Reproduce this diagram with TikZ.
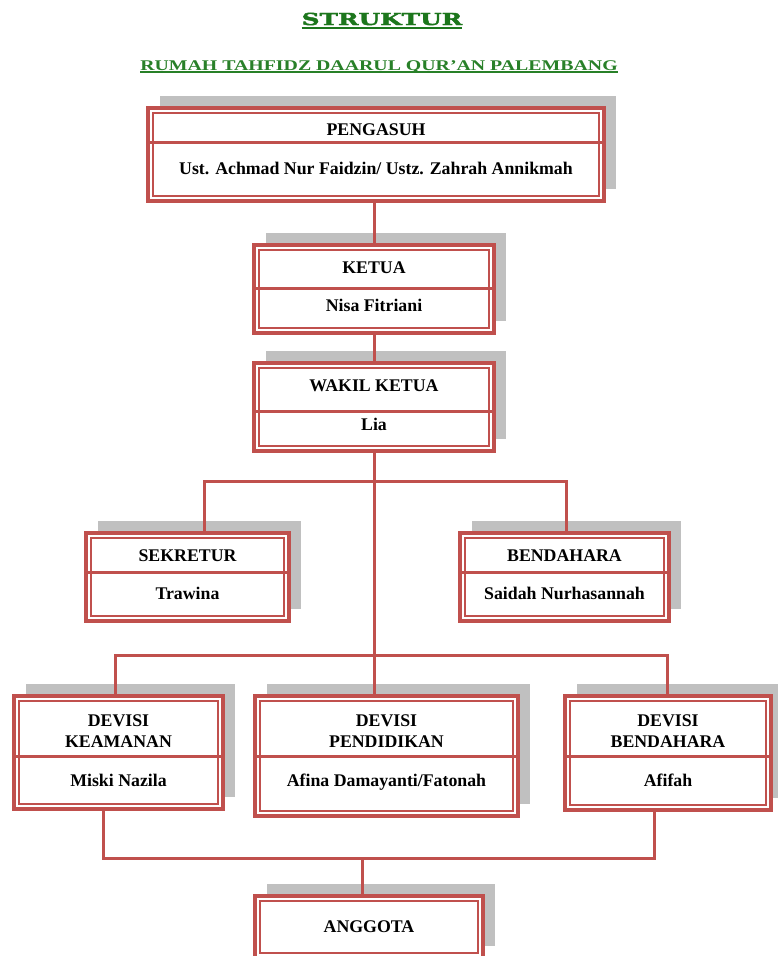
\documentclass[tikz,border=0pt]{standalone}
\usepackage{fontspec}
\setmainfont{Liberation Serif}
\newfontfamily\titlefont[UprightFont=* Bold,FakeStretch=1.5,FakeBold=2.5]{DejaVu Serif}
\newfontfamily\subfont[UprightFont=* Bold,FakeStretch=1.34]{Liberation Serif}
\usetikzlibrary{fit,shadows}
\definecolor{boxred}{RGB}{192,80,77}
\definecolor{shadowgray}{RGB}{192,192,192}
\definecolor{titlegreen}{RGB}{28,118,28}
\definecolor{subgreen}{RGB}{40,128,40}
\begin{document}
\begin{tikzpicture}[x=1pt,y=-1pt,
  frame/.style={draw=boxred, line width=4.5pt, fill=white, inner sep=0pt,
    drop shadow={shadow xshift=12pt, shadow yshift=12pt, fill=shadowgray, opacity=1},
    path picture={\draw[boxred, line width=1.4pt]
      ([shift={(5pt,-5pt)}]path picture bounding box.north west) rectangle
      ([shift={(-5pt,5pt)}]path picture bounding box.south east);}},
  divider/.style={draw=boxred, line width=3pt},
  link/.style={draw=boxred, line width=3pt},
  head/.style={anchor=base, inner sep=0pt, align=center, text=black,
    font=\bfseries\fontsize{17.8}{21}\selectfont}]
\fill[white] (0,0) rectangle (778,956);
\useasboundingbox (0,0) rectangle (778,956);

% title
\node[anchor=base, inner sep=0pt, text=titlegreen, font=\titlefont\fontsize{16.5}{20}\selectfont] (title) at (382,25) {STRUKTUR};
\draw[titlegreen, line width=2pt] ([yshift=-3pt]title.base west) -- ([yshift=-3pt]title.base east);
\node[anchor=base, inner sep=0pt, text=subgreen, font=\subfont\fontsize{14.8}{18}\selectfont] (subtitle) at (379,70) {RUMAH TAHFIDZ DAARUL QUR’AN PALEMBANG};
\draw[subgreen, line width=1.5pt] ([yshift=-2pt]subtitle.base west) -- ([yshift=-2pt]subtitle.base east);

% pengasuh
\node[frame, fit={(148,108) (604,201)}] (pengasuh) {};
\draw[divider] (148,142) -- (604,142);
\node[head] (pengasuh-t) at (376,135) {PENGASUH};
\node[head] (pengasuh-n) at (376,174) {Ust. Achmad Nur Faidzin/ Ustz. Zahrah Annikmah};

% ketua
\node[frame, fit={(254,245) (494,333)}] (ketua) {};
\draw[divider] (254,288) -- (494,288);
\node[head] (ketua-t) at (374,273) {KETUA};
\node[head] (ketua-n) at (374,311) {Nisa Fitriani};

% wakil ketua
\node[frame, fit={(254,363) (494,451)}] (wakil) {};
\draw[divider] (254,411) -- (494,411);
\node[head] (wakil-t) at (374,391) {WAKIL KETUA};
\node[head] (wakil-n) at (374,430) {Lia};

% sekretur
\node[frame, fit={(86,533) (289,621)}] (sekretur) {};
\draw[divider] (86,572) -- (289,572);
\node[head] (sekretur-t) at (187.5,561) {SEKRETUR};
\node[head] (sekretur-n) at (187.5,599) {Trawina};

% bendahara
\node[frame, fit={(460,533) (669,621)}] (bendahara) {};
\draw[divider] (460,572) -- (669,572);
\node[head] (bendahara-t) at (564.5,561) {BENDAHARA};
\node[head] (bendahara-n) at (564.5,599) {Saidah Nurhasannah};

% devisi keamanan
\node[frame, fit={(14,696) (223,809)}] (keamanan) {};
\draw[divider] (14,756) -- (223,756);
\node[head] (keamanan-t) at (118.5,747) {DEVISI\\KEAMANAN};
\node[head] (keamanan-n) at (118.5,786) {Miski Nazila};

% devisi pendidikan
\node[frame, fit={(255,696) (518,816)}] (pendidikan) {};
\draw[divider] (255,756) -- (518,756);
\node[head] (pendidikan-t) at (386.5,747) {DEVISI\\PENDIDIKAN};
\node[head] (pendidikan-n) at (386.5,786) {Afina Damayanti/Fatonah};

% devisi bendahara
\node[frame, fit={(565,696) (771,810)}] (dbendahara) {};
\draw[divider] (565,756) -- (771,756);
\node[head] (dbendahara-t) at (668,747) {DEVISI\\BENDAHARA};
\node[head] (dbendahara-n) at (668,786) {Afifah};

% anggota
\node[frame, fit={(255,896) (483,958)}] (anggota) {};
\node[head] (anggota-t) at (369,932) {ANGGOTA};

% connectors
\coordinate (sek-drop) at (204,481);
\coordinate (ben-drop) at (566,481);
\coordinate (kea-drop) at (115,655);
\coordinate (dbe-drop) at (667,655);
\coordinate (kea-up) at (103,858);
\coordinate (dbe-up) at (654,858);
\coordinate (ang-up) at (362,858);
\path[link] (ketua.north |- pengasuh.south) -- (ketua.north);
\path[link] (wakil.north |- ketua.south) -- (wakil.north);
\path[link] (wakil.south) -- (wakil.south |- pendidikan.north);
\path[link] (sekretur.north -| sek-drop) -- (sek-drop) -- (ben-drop) -- (bendahara.north -| ben-drop);
\path[link] (keamanan.north -| kea-drop) -- (kea-drop) -- (dbe-drop) -- (dbendahara.north -| dbe-drop);
\path[link] (keamanan.south -| kea-up) -- (kea-up) -- (dbe-up) -- (dbendahara.south -| dbe-up);
\path[link] (ang-up) -- (anggota.north -| ang-up);
\end{tikzpicture}
\end{document}
